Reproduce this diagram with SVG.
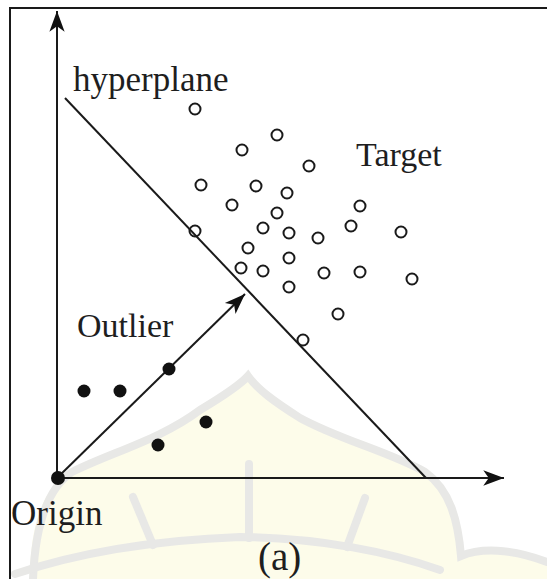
<svg xmlns="http://www.w3.org/2000/svg" width="547" height="579" viewBox="0 0 547 579">
<style>
.t{font-family:"Liberation Serif","Times New Roman",serif;font-size:34px;fill:#1e1e1e}
.o{fill:none;stroke:#1a1a1a;stroke-width:2}
.f{fill:#111}
.ln{stroke:#1a1a1a;stroke-width:2;fill:none}
.wm{fill:none;stroke:#e8e8e6;stroke-width:8;stroke-linecap:round}
</style>
<defs>
<marker id="ah" markerUnits="userSpaceOnUse" markerWidth="24" markerHeight="18" viewBox="-20 -8 22 16" refX="0" refY="0" orient="auto">
<path d="M0,0 L-19,-7 L-14,0 L-19,7 Z" fill="#111"/>
</marker>
</defs>
<rect width="547" height="579" fill="#ffffff"/>
<g id="watermark">
<path d="M30,579 C30,530 40,490 70,472 C110,452 160,440 200,410 C225,395 240,385 248,376 C258,390 275,402 300,418 C340,440 390,452 425,472 C450,490 458,520 461,556 C480,548 510,548 547,560 L547,579 Z" fill="#fdfcea"/>
<path class="wm" d="M33,579 C35,530 45,490 72,472 C112,452 160,440 200,410 C225,395 240,385 248,376 C258,390 275,402 300,418 C340,440 390,452 425,472 C450,490 458,520 461,556 C480,548 510,548 547,562"/>
<path class="wm" d="M249,464 L249,538"/>
<path class="wm" d="M133,497 L153,545"/>
<path class="wm" d="M365,498 L347,547"/>
<path class="wm" d="M15,574 C80,552 160,540 240,537 C320,538 390,552 440,570"/>
</g>
<g id="frame">
<path d="M10,579 L10,8 L547,8" fill="none" stroke="#1a1a1a" stroke-width="2"/>
</g>
<g id="connectors">
<line id="y-axis" class="ln" x1="57" y1="478" x2="57" y2="11" marker-end="url(#ah)"/>
<line id="x-axis" class="ln" x1="57" y1="478" x2="504" y2="478" marker-end="url(#ah)"/>
<line id="hyperplane-line" class="ln" x1="65" y1="98" x2="426" y2="478"/>
<line id="outlier-arrow" class="ln" x1="57" y1="478" x2="245" y2="294" marker-end="url(#ah)"/>
</g>
<g id="origin">
<circle class="f" cx="58" cy="478" r="7"/>
<text class="t" x="11" y="525" style="font-size:35px">Origin</text>
</g>
<g id="hyperplane">
<text class="t" x="73" y="91" style="font-size:35px">hyperplane</text>
</g>
<g id="target">
<text class="t" x="356" y="166">Target</text>
<circle class="o" cx="195" cy="109" r="5.5"/>
<circle class="o" cx="277" cy="135" r="5.5"/>
<circle class="o" cx="242" cy="150" r="5.5"/>
<circle class="o" cx="309" cy="166" r="5.5"/>
<circle class="o" cx="201" cy="185" r="5.5"/>
<circle class="o" cx="256" cy="186" r="5.5"/>
<circle class="o" cx="287" cy="193" r="5.5"/>
<circle class="o" cx="232" cy="205" r="5.5"/>
<circle class="o" cx="360" cy="206" r="5.5"/>
<circle class="o" cx="277" cy="213" r="5.5"/>
<circle class="o" cx="195" cy="231" r="5.5"/>
<circle class="o" cx="263" cy="228" r="5.5"/>
<circle class="o" cx="289" cy="233" r="5.5"/>
<circle class="o" cx="318" cy="238" r="5.5"/>
<circle class="o" cx="351" cy="226" r="5.5"/>
<circle class="o" cx="401" cy="232" r="5.5"/>
<circle class="o" cx="248" cy="248" r="5.5"/>
<circle class="o" cx="289" cy="258" r="5.5"/>
<circle class="o" cx="241" cy="268" r="5.5"/>
<circle class="o" cx="263" cy="271" r="5.5"/>
<circle class="o" cx="324" cy="273" r="5.5"/>
<circle class="o" cx="360" cy="272" r="5.5"/>
<circle class="o" cx="412" cy="279" r="5.5"/>
<circle class="o" cx="289" cy="287" r="5.5"/>
<circle class="o" cx="338" cy="314" r="5.5"/>
<circle class="o" cx="303" cy="340" r="5.5"/>
</g>
<g id="outlier">
<text class="t" x="77" y="337">Outlier</text>
<circle class="f" cx="84" cy="391" r="6.5"/>
<circle class="f" cx="120" cy="391" r="6.5"/>
<circle class="f" cx="169" cy="369" r="6.5"/>
<circle class="f" cx="206" cy="422" r="6.5"/>
<circle class="f" cx="158" cy="445" r="6.5"/>
</g>
<g id="caption">
<text class="t" x="258" y="570" style="font-size:39px">(a)</text>
</g>
</svg>
